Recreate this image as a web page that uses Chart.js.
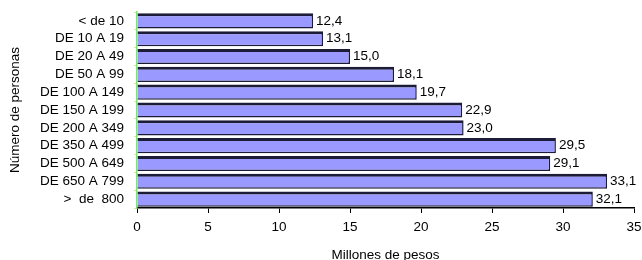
<!DOCTYPE html>
<html><head><meta charset="utf-8">
<script src="https://cdn.jsdelivr.net/npm/chart.js@4.4.0/dist/chart.umd.min.js"></script>
<style>html,body{margin:0;padding:0;background:#fff;overflow:hidden}#wrap{width:642px;height:260px}</style>
</head><body><div id="wrap"><canvas id="c" width="642" height="260"></canvas></div>
<script>
const categories = ["< de 10","DE 10 A 19","DE 20 A 49","DE 50 A 99","DE 100 A 149","DE 150 A 199","DE 200 A 349","DE 350 A 499","DE 500 A 649","DE 650 A 799",">  de  800"];
const values = [12.4,13.1,15.0,18.1,19.7,22.9,23.0,29.5,29.1,33.1,32.1];
const xTicks = [0,5,10,15,20,25,30,35];

const FONT = '"Liberation Sans", Arial, sans-serif';
const FS = 13.5;

const labelPlugin = {
  id:'vals',
  afterDatasetsDraw(chart){
    const ctx = chart.ctx;
    const meta = chart.getDatasetMeta(0);
    ctx.save();
    ctx.font = FS + 'px ' + FONT;
    ctx.fillStyle = '#000';
    ctx.textAlign = 'left';
    ctx.textBaseline = 'middle';
    meta.data.forEach((bar,i)=>{
      ctx.fillText(values[i].toFixed(1).replace('.',','), bar.x + 3, bar.y);
    });
    ctx.restore();
  }
};

new Chart(document.getElementById('c'), {
  type:'bar',
  data:{labels:categories, datasets:[{data:values, backgroundColor:'#9999ff', borderColor:'#1c1c38', borderWidth:{top:3,right:1.5,bottom:1.5,left:0}, borderSkipped:'start', categoryPercentage:1, barPercentage:0.85}]},
  options:{
    indexAxis:'y', responsive:false, animation:false,
    layout:{padding:{left:0,right:8,top:12,bottom:0}},
    plugins:{legend:{display:false}, tooltip:{enabled:false}},
    scales:{
      x:{min:0,max:35,
        afterBuildTicks(s){ s.ticks = xTicks.map(v=>({value:v})); },
        afterFit(s){ s.height = 52; s.paddingLeft = 0; s.paddingRight = 0; },
        grid:{drawOnChartArea:false, drawTicks:true, tickLength:5, color:'#000'},
        border:{color:'#000', width:1.5},
        ticks:{color:'#000', font:{size:FS, family:FONT}, padding:6},
        title:{display:true, text:'Millones de pesos', color:'#000', font:{size:FS, family:FONT}, padding:{top:0,bottom:-3}}
      },
      y:{
        afterFit(s){ s.width = 137; s.paddingTop = 0; s.paddingBottom = 0; },
        grid:{display:true, offset:true, drawOnChartArea:false, drawTicks:true, tickLength:3, color:'#d8e890'},
        border:{color:'#80e080', width:1.5},
        ticks:{color:'#000', font:{size:FS, family:FONT}, padding:10, autoSkip:false},
        title:{display:true, text:'Número de personas', color:'#000', font:{size:FS, family:FONT}, padding:{top:7,bottom:0}}
      }
    }
  },
  plugins:[labelPlugin]
});
</script></body></html>
